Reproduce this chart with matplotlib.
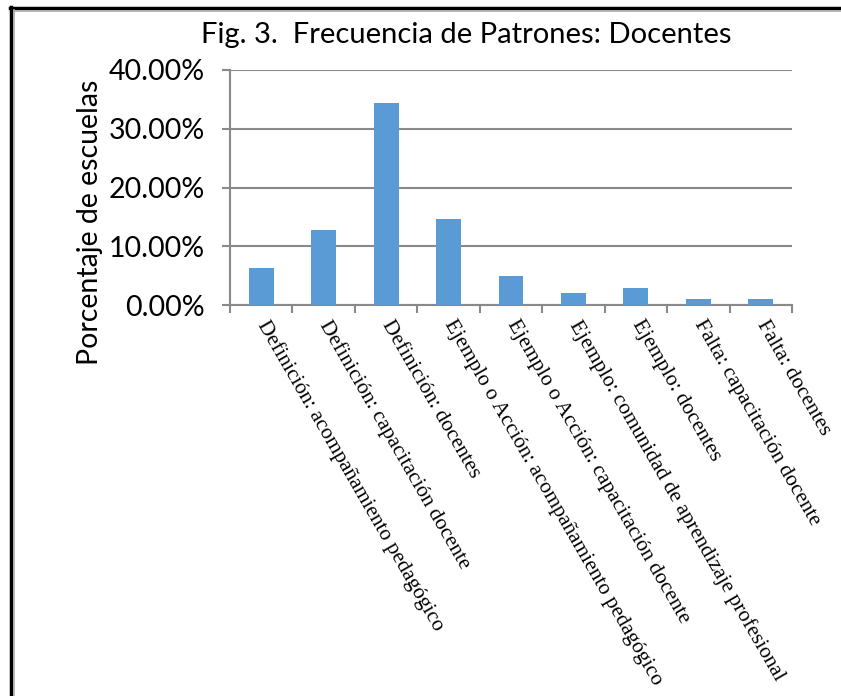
import numpy as np
import matplotlib.pyplot as plt
from matplotlib.lines import Line2D

# data
categorias = [
    "Definición: acompañamiento pedagógico",
    "Definición: capacitación docente",
    "Definición: docentes",
    "Ejemplo o Acción: acompañamiento pedagógico",
    "Ejemplo o Acción: capacitación docente",
    "Ejemplo: comunidad de aprendizaje profesional",
    "Ejemplo: docentes",
    "Falta: capacitación docente",
    "Falta: docentes",
]
porcentajes = [6.3, 12.7, 34.3, 14.7, 4.9, 2.0, 2.9, 1.0, 1.0]
y_ticks = [0, 10, 20, 30, 40]

W, H = 841, 696
fig = plt.figure(figsize=(W / 100, H / 100), dpi=100)
ax = fig.add_axes([230 / W, 1 - 305 / H, (792 - 230) / W, (305 - 70) / H])

gris = "#898989"
x = np.arange(len(categorias))
ax.bar(x, porcentajes, width=0.4, color="#5B9BD5", zorder=3)

ax.set_xlim(-0.5, len(categorias) - 0.5)
ax.set_ylim(0, 40)
ax.set_yticks(y_ticks)
ax.set_yticklabels(["%.2f%%" % v for v in y_ticks], fontfamily="Lato", fontsize=20.5)
ax.yaxis.grid(True, color=gris, linewidth=1.5, zorder=0)
ax.tick_params(axis="y", length=6, width=1.5, color=gris, pad=12)

# category labels at bar centres, tick marks at boundaries
ax.set_xticks(x)
ax.set_xticklabels(categorias, rotation=-60, ha="left", va="center",
                   rotation_mode="anchor", fontfamily="Liberation Serif", fontsize=15.5)
ax.tick_params(axis="x", which="major", length=0, pad=12)
ax.set_xticks(np.arange(-0.5, len(categorias), 1.0), minor=True)
ax.tick_params(axis="x", which="minor", length=6, width=1.5, color=gris)

for s in ["top", "right"]:
    ax.spines[s].set_visible(False)
for s in ["left", "bottom"]:
    ax.spines[s].set_color(gris)
    ax.spines[s].set_linewidth(1.5)

fig.text(466 / W, 1 - 35 / H, "Fig. 3.  Frecuencia de Patrones: Docentes",
         ha="center", va="center", fontfamily="Lato", fontsize=21)
fig.text(90 / W, 1 - 222 / H, "Porcentaje de escuelas", rotation=90,
         ha="center", va="center", fontfamily="Lato", fontsize=20.5)

# page border (top and left only)
fig.add_artist(Line2D([10 / W, 1], [1 - 8 / H, 1 - 8 / H], color="black", linewidth=2.5))
fig.add_artist(Line2D([13 / W, 1], [1 - 11 / H, 1 - 11 / H], color="#aaaaaa", linewidth=1.2))
fig.add_artist(Line2D([11 / W, 11 / W], [0, 1 - 7 / H], color="black", linewidth=2.5))
fig.add_artist(Line2D([14 / W, 14 / W], [0, 1 - 10 / H], color="#aaaaaa", linewidth=1.2))

fig.savefig("out.png", dpi=100)
